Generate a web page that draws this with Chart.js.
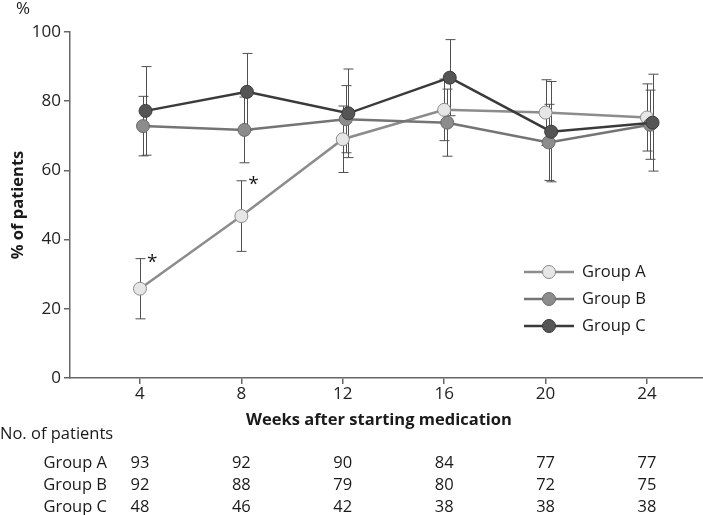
<!DOCTYPE html>
<html>
<head>
    <meta charset="utf-8" />
    <title>Patients by week</title>
    <style>
        html, body { margin: 0; padding: 0; background: #fff; }
        #wrap { width: 703px; height: 515px; }
    </style>
</head>
<body>
    <div id="wrap"><canvas id="lineChart" width="703" height="515"></canvas></div>

    <script src="https://cdn.jsdelivr.net/npm/chart.js@4"></script>
    <script>
        // data
        const weeks = [4, 8, 12, 16, 20, 24];
        const yTicks = [0, 20, 40, 60, 80, 100];

        const groupA = [25.8, 46.8, 69.0, 77.5, 76.7, 75.3];
        const groupAErr = [8.7, 10.2, 9.6, 8.9, 9.5, 9.7];
        const groupB = [72.8, 71.7, 74.8, 73.8, 68.1, 73.2];
        const groupBErr = [8.6, 9.5, 9.7, 9.7, 11.0, 10.0];
        const groupC = [77.2, 82.7, 76.5, 86.8, 71.2, 73.8];
        const groupCErr = [12.8, 11.1, 12.8, 11.0, 14.5, 14.0];

        const significantA = [true, true, false, false, false, false];

        const patientsA = [93, 92, 90, 84, 77, 77];
        const patientsB = [92, 88, 79, 80, 72, 75];
        const patientsC = [48, 46, 42, 38, 38, 38];

        const FONT = "'Open Sans', 'Liberation Sans', sans-serif";
        const AXIS = '#666';
        const TXT = 16.5;

        function makeSet(label, values, errs, dodge, line, fill, edge) {
            return {
                label: label,
                data: weeks.map((w, i) => ({ x: w + dodge, y: values[i] })),
                errors: errs,
                borderColor: line,
                borderWidth: 2.5,
                pointBackgroundColor: fill,
                pointBorderColor: edge,
                pointBorderWidth: 1,
                pointRadius: 6.5,
                fill: false,
                tension: 0
            };
        }

        const datasets = [
            makeSet('Group C', groupC, groupCErr, 0.22, '#3a3a3a', '#555555', '#3a3a3a'),
            makeSet('Group B', groupB, groupBErr, 0.12, '#747474', '#8c8c8c', '#6a6a6a'),
            makeSet('Group A', groupA, groupAErr, 0, '#8c8c8c', '#e6e6e6', '#8a8a8a')
        ];

        // error bars behind the points
        const errorBars = {
            id: 'errorBars',
            beforeDatasetsDraw(chart) {
                const ctx = chart.ctx;
                const xs = chart.scales.x, ys = chart.scales.y;
                ctx.save();
                ctx.strokeStyle = '#505050';
                ctx.lineWidth = 1;
                chart.data.datasets.forEach((ds) => {
                    ds.data.forEach((p, i) => {
                        const x = Math.round(xs.getPixelForValue(p.x)) + 0.5;
                        const top = ys.getPixelForValue(p.y + ds.errors[i]);
                        const bot = ys.getPixelForValue(p.y - ds.errors[i]);
                        ctx.beginPath();
                        ctx.moveTo(x, top); ctx.lineTo(x, bot);
                        ctx.moveTo(x - 5, top); ctx.lineTo(x + 5, top);
                        ctx.moveTo(x - 5, bot); ctx.lineTo(x + 5, bot);
                        ctx.stroke();
                    });
                });
                ctx.restore();
            }
        };

        // texts, legend and the patients table
        const extras = {
            id: 'extras',
            afterDraw(chart) {
                const ctx = chart.ctx;
                const xs = chart.scales.x, ys = chart.scales.y;
                ctx.save();
                ctx.fillStyle = '#1a1a1a';

                // asterisks
                ctx.font = '19px ' + FONT;
                ctx.textAlign = 'left';
                ctx.textBaseline = 'middle';
                weeks.forEach((w, i) => {
                    if (significantA[i]) {
                        ctx.fillText('*', xs.getPixelForValue(w) + 7, ys.getPixelForValue(groupA[i] + groupAErr[i]) + 4);
                    }
                });

                ctx.font = '17px ' + FONT;
                ctx.textAlign = 'center';
                ctx.fillText('%', 23, 9);

                // y title
                ctx.save();
                ctx.translate(18, 205);
                ctx.rotate(-Math.PI / 2);
                ctx.font = 'bold ' + TXT + 'px ' + FONT;
                ctx.fillText('% of patients', 0, 0);
                ctx.restore();

                // x title
                ctx.font = 'bold ' + TXT + 'px ' + FONT;
                ctx.fillText('Weeks after starting medication', 379, 420);

                // legend
                const legendRows = [
                    { name: 'Group A', ds: chart.data.datasets[2] },
                    { name: 'Group B', ds: chart.data.datasets[1] },
                    { name: 'Group C', ds: chart.data.datasets[0] }
                ];
                legendRows.forEach((row, k) => {
                    const y = 272 + k * 27;
                    ctx.strokeStyle = row.ds.borderColor;
                    ctx.lineWidth = 2.5;
                    ctx.beginPath();
                    ctx.moveTo(524, y); ctx.lineTo(574, y);
                    ctx.stroke();
                    ctx.beginPath();
                    ctx.arc(549, y, 6.5, 0, Math.PI * 2);
                    ctx.fillStyle = row.ds.pointBackgroundColor;
                    ctx.fill();
                    ctx.strokeStyle = row.ds.pointBorderColor;
                    ctx.lineWidth = 1;
                    ctx.stroke();
                    ctx.fillStyle = '#1a1a1a';
                    ctx.font = TXT + 'px ' + FONT;
                    ctx.textAlign = 'left';
                    ctx.fillText(row.name, 582, y);
                });

                // patients table
                ctx.font = TXT + 'px ' + FONT;
                ctx.textAlign = 'left';
                ctx.fillText('No. of patients', 0, 434);
                const rows = [['Group A', patientsA], ['Group B', patientsB], ['Group C', patientsC]];
                rows.forEach((r, k) => {
                    const y = 463 + k * 22;
                    ctx.textAlign = 'right';
                    ctx.fillText(r[0], 107, y);
                    ctx.textAlign = 'center';
                    r[1].forEach((n, i) => {
                        ctx.fillText(String(n), xs.getPixelForValue(weeks[i]), y);
                    });
                });
                ctx.restore();
            }
        };

        const chart = new Chart(document.getElementById('lineChart'), {
            type: 'line',
            data: { datasets: datasets },
            options: {
                responsive: false,
                animation: false,
                events: [],
                layout: { autoPadding: false, padding: { top: 32, right: 0, bottom: 0, left: 0 } },
                plugins: { legend: { display: false }, tooltip: { enabled: false } },
                scales: {
                    x: {
                        type: 'linear',
                        min: 1.24,
                        max: 26.21,
                        afterBuildTicks: (scale) => { scale.ticks = weeks.map((v) => ({ value: v })); },
                        afterFit: (scale) => { scale.height = 137; scale.paddingLeft = 0; scale.paddingRight = 0; },
                        grid: { drawOnChartArea: false, tickLength: 6, tickColor: AXIS, lineWidth: 1.5 },
                        border: { color: AXIS, width: 1.5 },
                        ticks: { color: '#222', font: { family: FONT, size: 17 }, padding: 0, maxRotation: 0, autoSkip: false }
                    },
                    y: {
                        min: 0,
                        max: 100,
                        afterBuildTicks: (scale) => { scale.ticks = yTicks.map((v) => ({ value: v })); },
                        afterFit: (scale) => { scale.width = 70; scale.paddingTop = 0; scale.paddingBottom = 0; },
                        grid: { drawOnChartArea: false, tickLength: 6, tickColor: AXIS, lineWidth: 1.5 },
                        border: { color: AXIS, width: 1.5 },
                        ticks: { color: '#222', font: { family: FONT, size: 17 }, padding: 3 }
                    }
                }
            },
            plugins: [errorBars, extras]
        });
    </script>
</body>
</html>
